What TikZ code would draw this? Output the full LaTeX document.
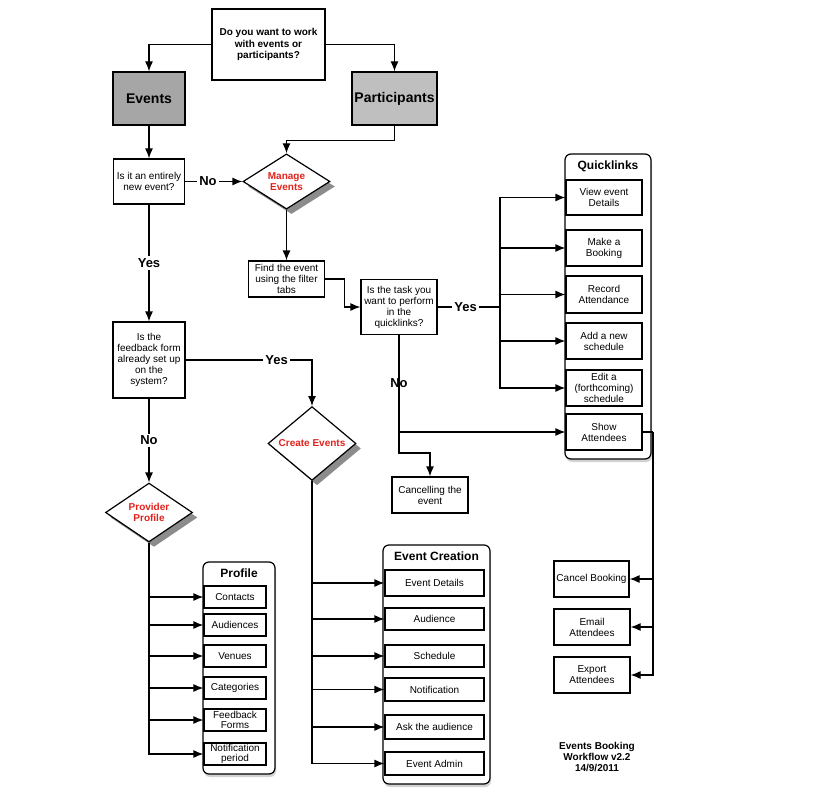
\documentclass[tikz,border=0pt]{standalone}
\usepackage{fontspec}
\setmainfont{Liberation Sans}
\usetikzlibrary{shapes.geometric,arrows.meta,shadows}
\definecolor{redtext}{RGB}{226,34,28}
\tikzstyle{arrow} = [-{Latex[length=10pt,width=8pt]}]
\tikzstyle{box} = [draw,fill=white,align=center,inner sep=1pt,font=\fontsize{10}{11}\selectfont]
\tikzstyle{bigbox} = [draw,align=center,inner sep=1pt,font=\fontsize{14}{16}\selectfont\bfseries]
\tikzstyle{choice} = [draw,fill=white,diamond,inner sep=0pt,align=center,text=redtext,font=\fontsize{10}{11}\selectfont\bfseries,drop shadow={shadow xshift=5pt,shadow yshift=-5pt,opacity=0.9}]
\tikzstyle{group} = [draw,fill=white,rounded corners=6pt,drop shadow={shadow xshift=1pt,shadow yshift=-3pt,opacity=0.35}]
\tikzstyle{grouptitle} = [font=\fontsize{12}{14}\selectfont\bfseries]
\tikzstyle{lbl} = [fill=white,inner sep=2pt,font=\fontsize{13}{15}\selectfont\bfseries]

\begin{document}
\begin{tikzpicture}[x=1pt,y=-1pt,line width=1.2pt]
    \fill[white] (0,0) rectangle (820,792);
    \useasboundingbox (0,0) rectangle (820,792);

    % top of the tree
    \node[box, minimum width=113, minimum height=71, font=\fontsize{10}{11.3}\selectfont\bfseries] (start) at (268.5,44.5) {Do you want to work\\with events or\\participants?};
    \node[bigbox, fill=gray!70, minimum width=72, minimum height=53] (events) at (149,98.5) {Events};
    \node[bigbox, fill=gray!50, minimum width=85, minimum height=53] (parts) at (394.5,98.5) {Participants};

    \node[box, minimum width=71, minimum height=45] (newev) at (149,181.5) {Is it an entirely\\new event?};
    \node[choice, minimum width=87, minimum height=53] (manage) at (286.5,181.5) {Manage\\Events};
    \node[box, minimum width=76, minimum height=36] (find) at (286.5,279) {Find the event\\using the filter\\tabs};
    \node[box, minimum width=76, minimum height=55] (task) at (399,307) {Is the task you\\want to perform\\in the\\quicklinks?};
    \node[box, minimum width=72, minimum height=76] (feedback) at (149,360) {Is the\\feedback form\\already set up\\on the\\system?};
    \node[choice, minimum width=88, minimum height=53] (create) at (312,443.5) {Create Events};
    \node[choice, minimum width=87, minimum height=55] (provider) at (149,512.5) {Provider\\Profile};
    \node[box, minimum width=76, minimum height=36] (cancelev) at (430,495) {Cancelling the\\event};

    % quicklinks
    \node[group, minimum width=86, minimum height=305] (quick) at (608,306.5) {};
    \node[grouptitle] (quicktitle) at (608,166) {Quicklinks};
    \node[box, minimum width=76, minimum height=35] (view) at (604,197.5) {View event\\Details};
    \node[box, minimum width=76, minimum height=36] (booking) at (604,248) {Make a\\Booking};
    \node[box, minimum width=76, minimum height=37] (record) at (604,294.5) {Record\\Attendance};
    \node[box, minimum width=76, minimum height=36] (addsch) at (604,341) {Add a new\\schedule};
    \node[box, minimum width=76, minimum height=36] (editsch) at (604,388) {Edit a\\(forthcoming)\\schedule};
    \node[box, minimum width=76, minimum height=36] (show) at (604,432) {Show\\Attendees};

    \node[box, minimum width=75, minimum height=36] (cancelbk) at (591.5,579) {Cancel Booking};
    \node[box, minimum width=76, minimum height=36] (email) at (592,627) {Email\\Attendees};
    \node[box, minimum width=76, minimum height=36] (export) at (592,675) {Export\\Attendees};

    % profile
    \node[group, minimum width=72, minimum height=212] (profile) at (239,668) {};
    \node[grouptitle] (profiletitle) at (239,573) {Profile};
    \node[box, minimum width=62, minimum height=22] (contacts) at (235,597) {Contacts};
    \node[box, minimum width=62, minimum height=22] (audiences) at (235,625) {Audiences};
    \node[box, minimum width=62, minimum height=22] (venues) at (235,656) {Venues};
    \node[box, minimum width=62, minimum height=22] (categories) at (235,688) {Categories};
    \node[box, minimum width=62, minimum height=22, font=\fontsize{10}{10}\selectfont] (fbforms) at (235,720) {Feedback\\Forms};
    \node[box, minimum width=62, minimum height=22, font=\fontsize{10}{10}\selectfont] (period) at (235,754) {Notification\\period};

    % event creation
    \node[group, minimum width=107, minimum height=239] (creation) at (436.5,664.5) {};
    \node[grouptitle] (creationtitle) at (436.5,556) {Event Creation};
    \node[box, minimum width=99, minimum height=26] (details) at (434.5,583) {Event Details};
    \node[box, minimum width=99, minimum height=22] (audience) at (434.5,619) {Audience};
    \node[box, minimum width=99, minimum height=22] (schedule) at (434.5,656) {Schedule};
    \node[box, minimum width=99, minimum height=23] (notif) at (434.5,689.5) {Notification};
    \node[box, minimum width=99, minimum height=24] (ask) at (434.5,727) {Ask the audience};
    \node[box, minimum width=99, minimum height=23] (admin) at (434.5,763.5) {Event Admin};

    \node[align=center, font=\fontsize{10}{11}\selectfont\bfseries] (version) at (597,757) {Events Booking\\Workflow v2.2\\14/9/2011};

    % connectors
    \coordinate (taskbus) at (500,307);
    \coordinate (nobend) at (399,453);
    \coordinate (showbus) at (653,432);

    \draw[arrow] (start.west) -| (events.north);
    \draw[arrow] (start.east) -| (parts.north);
    \draw[arrow] (events.south) -- (newev.north);
    \draw[arrow] (parts.south) -- ++(0,15) -| (manage.north);
    \draw[arrow] (newev.east) -- node[lbl, pos=0.4]{No} (manage.west);
    \draw[arrow] (manage.south) -- (find.north);
    \draw[arrow] (find.east) -- ++(19,0) |- (task.west);
    \draw[arrow] (newev.south) -- node[lbl]{Yes} (feedback.north);
    \draw[arrow] (feedback.east) -| node[lbl, pos=0.36]{Yes} (create.north);
    \draw[arrow] (feedback.south) -- node[lbl]{No} (provider.north);

    \draw (task.east) -- node[lbl, pos=0.45]{Yes} (taskbus);
    \foreach \item in {view,booking,record,addsch,editsch}
        \draw[arrow] (taskbus) |- (\item.west);
    \draw[arrow] (task.south) |- node[lbl, pos=0.25]{No} (show.west);
    \draw[arrow] (task.south) -- (nobend) -| (cancelev.north);

    \draw (show.east) -- (showbus);
    \foreach \item in {cancelbk,email,export}
        \draw[arrow] (showbus) |- (\item.east);

    \foreach \item in {contacts,audiences,venues,categories,fbforms,period}
        \draw[arrow] (provider.south) |- (\item.west);
    \foreach \item in {details,audience,schedule,notif,ask,admin}
        \draw[arrow] (create.south) |- (\item.west);
\end{tikzpicture}
\end{document}
